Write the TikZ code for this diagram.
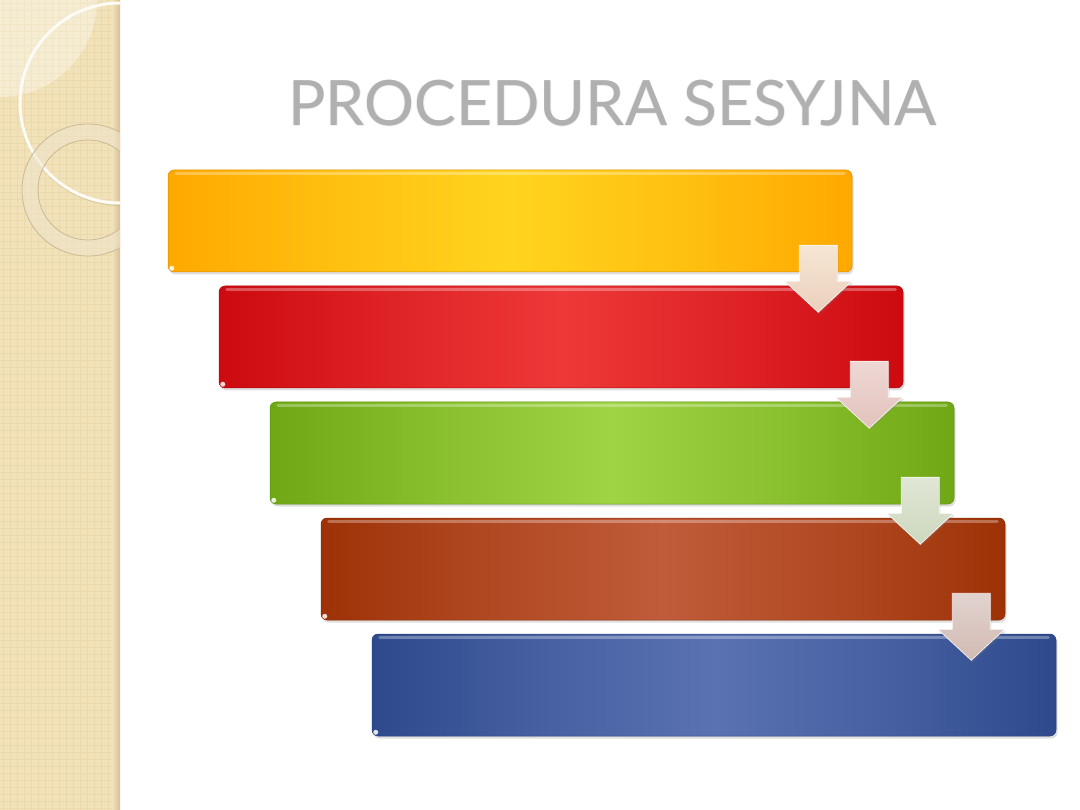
\documentclass[tikz,border=0pt]{standalone}
\usepackage{fontspec}
\newfontfamily\titlefont{Lato}
\usetikzlibrary{calc,shadows}
\definecolor{stripbg}{HTML}{F2E2B9}
\definecolor{stripline}{HTML}{EBD8AB}
\definecolor{stripedge}{HTML}{D4C094}
\definecolor{ringfill}{HTML}{EFE5CE}
\definecolor{ringedge}{HTML}{C9B994}
\definecolor{titlegray}{HTML}{B0B0B0}
\definecolor{orE}{HTML}{FFA800}
\definecolor{orM}{HTML}{FFD41E}
\definecolor{reE}{HTML}{CC0A10}
\definecolor{reM}{HTML}{EE3838}
\definecolor{grE}{HTML}{6FA814}
\definecolor{grM}{HTML}{9FD444}
\definecolor{brE}{HTML}{9E3206}
\definecolor{brM}{HTML}{C05C3A}
\definecolor{blE}{HTML}{2E4A8C}
\definecolor{blM}{HTML}{5A72B2}
\definecolor{arTa}{HTML}{F6E6D4}\definecolor{arBa}{HTML}{EAD0BC}
\definecolor{arTb}{HTML}{EED8D4}\definecolor{arBb}{HTML}{E2C2BC}
\definecolor{arTc}{HTML}{E0E7D5}\definecolor{arBc}{HTML}{CDD7BE}
\definecolor{arTd}{HTML}{E2D3CE}\definecolor{arBd}{HTML}{D2BAB4}
\colorlet{boxedge}{orE}
\colorlet{boxmid}{orM}
\pgfdeclarehorizontalshading[boxedge,boxmid]{boxshade}{100bp}{%
  color(0bp)=(boxedge); color(25bp)=(boxedge); color(37.5bp)=(boxedge!45!boxmid);
  color(50bp)=(boxmid); color(62.5bp)=(boxedge!45!boxmid); color(75bp)=(boxedge); color(100bp)=(boxedge)}
\tikzset{
  stepbox/.style={rectangle, rounded corners=6pt, inner sep=0pt,
    minimum width=684pt, minimum height=102pt, shading=boxshade,
    drop shadow={shadow xshift=1.5pt, shadow yshift=-2.5pt, opacity=0.25}},
  blockarrow/.style={draw=white, draw opacity=0.8, line width=0.8pt, line join=miter,
    drop shadow={shadow xshift=1pt, shadow yshift=-2pt, opacity=0.25}},
  titletext/.style={font=\titlefont\fontsize{62.5}{62.5}\selectfont, anchor=base, inner sep=0pt},
}
\begin{document}
\begin{tikzpicture}[x=1pt,y=-1pt]
\useasboundingbox (0,0) rectangle (1080,810);
\fill[white] (0,0) rectangle (1080,810);
% left decorative strip
\fill[stripbg] (0,0) rectangle (120,810);
\begin{scope}
  \clip (0,0) rectangle (116,810);
  \foreach \x in {3.5,10.5,...,116} \draw[stripline, line width=1.2pt] (\x,0) -- (\x,810);
  \foreach \y in {3.5,10.5,...,810} \draw[stripline, line width=1.2pt] (0,\y) -- (116,\y);
\end{scope}
\shade[left color=stripbg, right color=stripedge] (112,0) rectangle (120,810);
\begin{scope}
  \clip (0,0) rectangle (120,810);
  \fill[white, opacity=0.35] (0,0) circle[radius=97];
  \draw[ringedge, opacity=0.6, line width=1pt] (121,104) circle[radius=101.5];
  \draw[white!85!stripbg, line width=3pt] (120,103) circle[radius=100];
  \fill[ringfill, opacity=0.55, even odd rule] (88,190) circle[radius=66] (88,190) circle[radius=50];
  \draw[ringedge, line width=0.8pt] (88,190) circle[radius=66];
  \draw[ringedge, line width=0.8pt] (88,190) circle[radius=50];
\end{scope}
% title (soft edges)
\foreach \dx/\dy in {-0.8/0,0.8/0,0/-0.8,0/0.8}
  \node[titletext, text=titlegray, text opacity=0.2] at (612.5+\dx,126+\dy) {PROCEDURA SESYJNA};
\node[titletext, text=titlegray] (title) at (612.5,126) {PROCEDURA SESYJNA};
% boxes
\foreach \i/\ce/\cm in {0/orE/orM,1/reE/reM,2/grE/grM,3/brE/brM,4/blE/blM}{
  \colorlet{boxedge}{\ce}\colorlet{boxmid}{\cm}
  \node[stepbox, draw=\ce!85!black, line width=0.5pt]
    (b\i) at (510+51*\i, 221+116*\i) {};
  \draw[white, opacity=0.3, line width=3pt, line cap=round]
    ([xshift=8pt,yshift=-4pt]b\i.north west) -- ([xshift=-8pt,yshift=-4pt]b\i.north east);
  \fill[white, opacity=0.85] ([xshift=4pt,yshift=4pt]b\i.south west) circle[radius=2.5pt];
}
% arrows
\foreach \i/\ct/\cb in {0/arTa/arBa,1/arTb/arBb,2/arTc/arBc,3/arTd/arBd}{
  \coordinate (a\i) at ($(b\i.south east)+(-34,0)$);
  \path[blockarrow, top color=\ct, bottom color=\cb]
    (a\i) +(-19,-27) -- +(19,-27) -- +(19,9) -- +(33.5,9) -- +(0,40) -- +(-33.5,9) -- +(-19,9) -- cycle;
}
\end{tikzpicture}
\end{document}
